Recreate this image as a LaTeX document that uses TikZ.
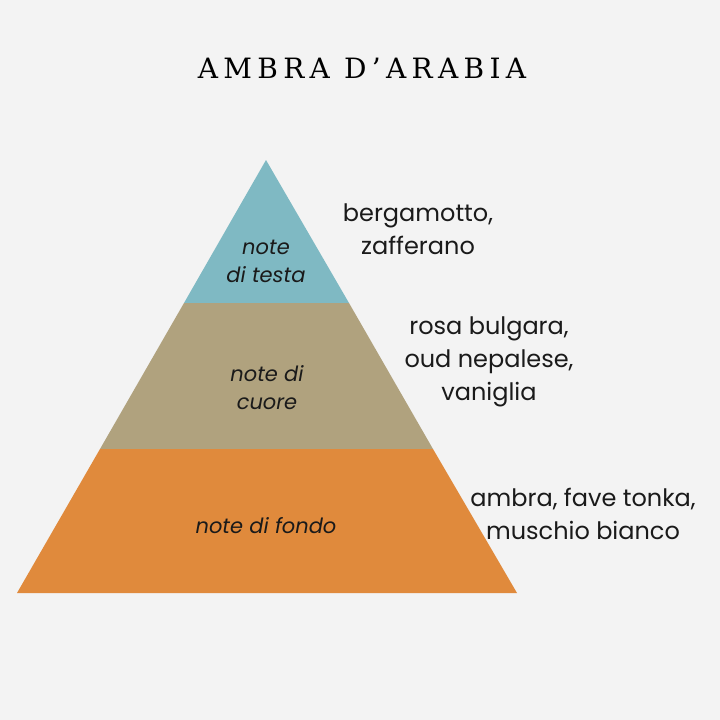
\documentclass[tikz,border=0pt]{standalone}
\usepackage{fontspec}
\setmainfont{Poppins}
\newfontfamily\titlefont[LetterSpace=19]{DejaVu Serif}
\definecolor{bgc}{HTML}{F3F3F3}
\definecolor{teal}{HTML}{7FB9C3}
\definecolor{khaki}{HTML}{B0A27E}
\definecolor{orng}{HTML}{E08A3C}
\definecolor{ink}{HTML}{1A1A1A}
\tikzset{
  notes/.style={font=\fontsize{24}{33}\selectfont, text=ink, align=center, inner sep=0pt},
  layer/.style={font=\fontsize{21}{28}\selectfont\itshape, text=ink, align=center, inner sep=0pt},
}
\begin{document}
\begin{tikzpicture}[x=1pt,y=-1pt]
\fill[bgc] (0,0) rectangle (720,720);
\useasboundingbox (0,0) rectangle (720,720);
\coordinate (apex) at (266,160);
\coordinate (bl) at (17,593);
\coordinate (br) at (517,593);
\coordinate (ml1) at (184,303);
\coordinate (mr1) at (349,303);
\coordinate (ml2) at (100,449);
\coordinate (mr2) at (433,449);
\fill[teal] (apex) -- (mr1) -- (ml1) -- cycle;
\fill[khaki] (ml1) -- (mr1) -- (mr2) -- (ml2) -- cycle;
\fill[orng] (ml2) -- (mr2) -- (br) -- (bl) -- cycle;
\node[inner sep=0pt, text=black] (title) at (362,68) {\titlefont\fontsize{28}{30}\selectfont AMBRA D’ARABIA};
\node[layer] (top) at (266,261) {note\\di testa};
\node[layer] (mid) at (267,388) {note di\\cuore};
\node[layer] (bot) at (266,526) {note di fondo};
\node[notes] (n1) at (418,229) {bergamotto,\\zafferano};
\node[notes] (n2) at (489,362) {rosa bulgara,\\oud nepalese,\\vaniglia};
\node[notes] (n3) at (583,514) {ambra, fave tonka,\\muschio bianco};
\end{tikzpicture}
\end{document}
